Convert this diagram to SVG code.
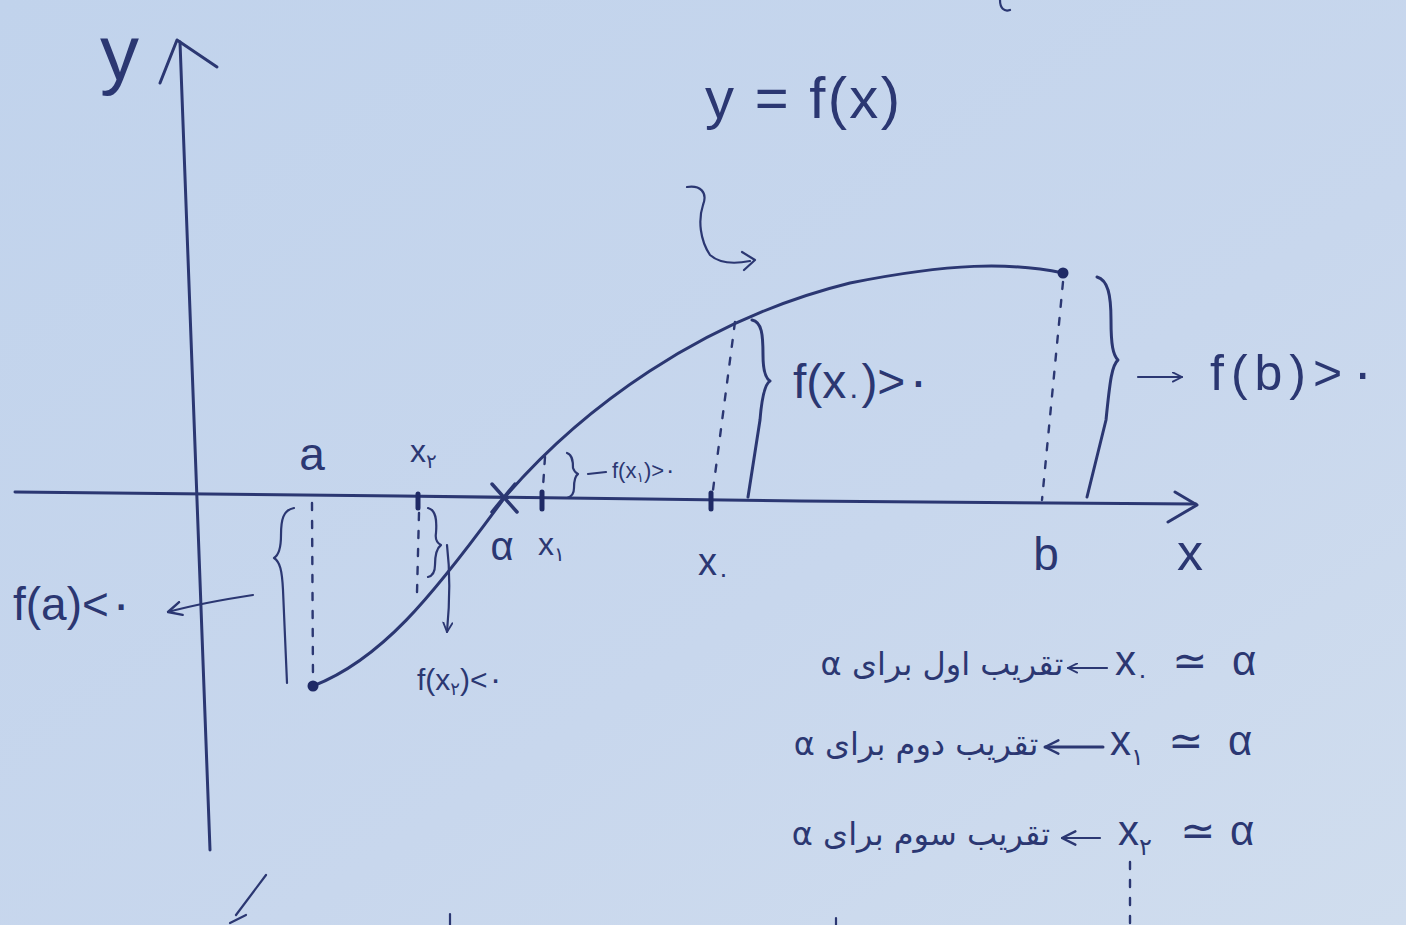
<svg xmlns="http://www.w3.org/2000/svg" width="1406" height="925" viewBox="0 0 1406 925">
<defs>
<linearGradient id="bg" x1="0" y1="0" x2="1" y2="1">
<stop offset="0" stop-color="#c1d3ec"/>
<stop offset="0.6" stop-color="#c8d7ed"/>
<stop offset="1" stop-color="#d0ddee"/>
</linearGradient>
<marker id="ah" viewBox="0 0 12 12" refX="11" refY="6" markerWidth="16" markerHeight="16" markerUnits="userSpaceOnUse" orient="auto"><path d="M1,1 L11,6 L1,11" fill="none" stroke="#2b3772" stroke-width="1.8" stroke-linecap="round" stroke-linejoin="round"/></marker>
<marker id="ahs" viewBox="0 0 12 12" refX="11" refY="6" markerWidth="11" markerHeight="11" markerUnits="userSpaceOnUse" orient="auto"><path d="M1,1 L11,6 L1,11" fill="none" stroke="#2b3772" stroke-width="2" stroke-linecap="round" stroke-linejoin="round"/></marker>
<style>
.ink{fill:none;stroke:#2b3772;stroke-width:3;stroke-linecap:round;stroke-linejoin:round}
.thin{stroke-width:2.2}
.dash{fill:none;stroke:#2b3772;stroke-width:2.4;stroke-dasharray:7 11;stroke-linecap:round}
.tick{stroke:#1f2a66;stroke-width:5;stroke-linecap:round}
.t{fill:#2b3772;font-family:"Liberation Sans","DejaVu Sans",sans-serif}
.fa{fill:#2b3772;font-family:"DejaVu Sans","Noto Sans",sans-serif;font-size:32px}
.dot{fill:#1f2a66}
</style>
</defs>
<rect width="1406" height="925" fill="url(#bg)"/>

<g id="axes">
  <path class="ink" d="M180,42 C190,300 200,560 210,850"/>
  <path class="ink" d="M160,83 L177,40 L217,67"/>
  <path class="ink" d="M15,492 L400,496 L800,501 L1196,504"/>
  <path class="ink" d="M1175,492 L1197,505 L1168,522"/>
  <text class="t" x="100" y="80" font-size="78">y</text>
  <text class="t" x="1190" y="570" font-size="52" text-anchor="middle">x</text>
</g>

<g id="curve">
  <path class="ink" d="M313,686 C380,660 430,600 505,497 C580,410 700,320 850,283 C950,263 1010,262 1063,273"/>
  <text class="t" x="705" y="118" font-size="58" textLength="195">y = f(x)</text>
  <path class="ink thin" d="M687,187 C700,185 708,192 703,205 C698,220 700,240 710,255 C718,262 730,265 750,261"/>
  <path class="ink thin" d="M742,252 L755,260 L744,270"/>
</g>

<g id="point-a">
  <circle class="dot" cx="313" cy="686" r="5.5"/>
  <path class="dash" d="M312,503 L313,680"/>
  <text class="t" x="312" y="470" font-size="46" text-anchor="middle">a</text>
  <text class="t" x="13" y="620" font-size="46">f(a)&lt;۰</text>
</g>

<g id="point-x2">
  <line class="tick" x1="418" y1="494" x2="418" y2="508"/>
  <path class="dash" d="M419,513 L417,593"/>
  <text class="t" x="410" y="462" font-size="32">x<tspan font-size="20" dy="6">۲</tspan></text>
  <text class="t" x="417" y="690" font-size="30">f(x<tspan font-size="18" dy="5">۲</tspan><tspan dy="-5">)&lt;۰</tspan></text>
</g>

<g id="root-alpha">
  <path class="ink" d="M492,484 L517,512 M515,484 L492,512" style="stroke-width:3.5"/>
  <text class="t" x="502" y="560" font-size="40" text-anchor="middle">α</text>
</g>

<g id="point-x1">
  <line class="tick" x1="542" y1="492" x2="542" y2="509"/>
  <path class="dash" d="M545,457 L543,487"/>
  <text class="t" x="538" y="555" font-size="32">x<tspan font-size="20" dy="6">۱</tspan></text>
  <text class="t" x="612" y="478" font-size="22">f(x<tspan font-size="14" dy="4">۱</tspan><tspan dy="-4">)&gt;۰</tspan></text>
</g>

<g id="point-x0">
  <line class="tick" x1="711" y1="493" x2="711" y2="509"/>
  <path class="dash" d="M735,322 L713,490"/>
  <text class="t" x="698" y="575" font-size="38">x<tspan font-size="24" dy="7">۰</tspan></text>
  <text class="t" x="793" y="398" font-size="48">f(x<tspan font-size="28" dy="6">۰</tspan><tspan dy="-6">)&gt;۰</tspan></text>
</g>

<g id="point-b">
  <circle class="dot" cx="1063" cy="273" r="5.5"/>
  <path class="dash" d="M1063,282 L1042,500"/>
  <text class="t" x="1046" y="570" font-size="46" text-anchor="middle">b</text>
  <text class="t" x="1210" y="390" font-size="50" letter-spacing="7">f(b)&gt;۰</text>
</g>

<g id="connectors">
  <path class="ink thin" d="M294,508 C283,510 281,520 281,535 C281,548 279,555 274,558 C280,562 282,570 283,590 L287,683"/>
  <path class="ink thin" d="M253,595 C220,600 190,606 168,612" marker-end="url(#ah)"/>
  <path class="ink thin" d="M428,508 C436,510 437,520 436,533 C435,539 437,543 441,545 C437,548 435,555 435,565 C435,572 432,576 428,577"/>
  <path class="ink thin" d="M447,545 C450,570 450,600 447,632" marker-end="url(#ahs)"/>
  <path class="ink thin" d="M567,453 C573,455 573,463 573,468 C574,471 576,473 578,474 C575,476 574,480 574,488 C574,494 571,497 567,498"/>
  <path class="ink thin" d="M588,474 L606,472"/>
  <path class="ink" d="M752,320 C762,322 763,335 763,355 C763,370 765,378 770,381 C765,384 762,395 760,420 L748,497"/>
  <path class="ink" d="M1097,277 C1108,280 1111,295 1111,320 C1111,345 1113,355 1118,360 C1112,365 1110,380 1106,420 L1087,497"/>
  <path class="ink thin" d="M1138,377 L1182,377" marker-end="url(#ahs)"/>
  <path class="ink thin" d="M1107,668 L1068,668" marker-end="url(#ahs)"/>
  <path class="ink" d="M1103,747 L1045,747" marker-end="url(#ah)"/>
  <path class="ink thin" d="M1100,838 L1062,838" marker-end="url(#ah)"/>
  <path class="dash" d="M1130,862 L1130,925"/>
</g>

<g id="approx-1">
  <text class="fa" x="942" y="675" text-anchor="middle" direction="rtl">تقریب اول برای α</text>
  <text class="t" x="1115" y="675" font-size="42">x<tspan font-size="24" dy="8">۰</tspan></text>
  <text class="t" x="1172" y="675" font-size="42">≃</text>
  <text class="t" x="1232" y="675" font-size="42">α</text>
</g>
<g id="approx-2">
  <text class="fa" x="916" y="755" text-anchor="middle" direction="rtl">تقریب دوم برای α</text>
  <text class="t" x="1110" y="755" font-size="42">x<tspan font-size="24" dy="10">۱</tspan></text>
  <text class="t" x="1168" y="755" font-size="42">≃</text>
  <text class="t" x="1228" y="755" font-size="42">α</text>
</g>
<g id="approx-3">
  <text class="fa" x="921" y="845" text-anchor="middle" direction="rtl">تقریب سوم برای α</text>
  <text class="t" x="1118" y="845" font-size="42">x<tspan font-size="24" dy="10">۲</tspan></text>
  <text class="t" x="1180" y="845" font-size="42">≃</text>
  <text class="t" x="1230" y="845" font-size="42">α</text>
</g>

<g id="marks">
  <path class="ink thin" d="M266,875 L236,915 M246,915 L230,923"/>
  <path class="ink thin" d="M450,914 L450,925"/>
  <path class="ink thin" d="M836,918 L836,925"/>
  <path class="ink thin" d="M1000,0 C1000,8 1004,12 1010,10"/>
</g>
</svg>
